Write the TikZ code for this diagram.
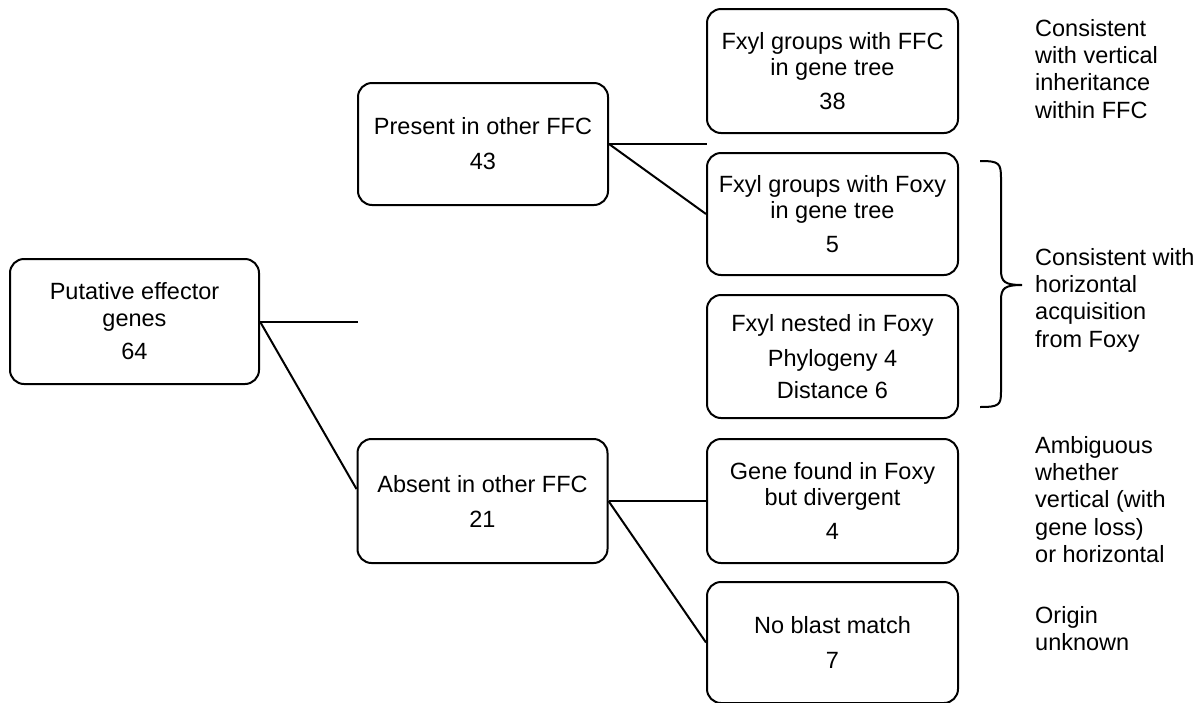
\documentclass[tikz,border=0pt]{standalone}
\usepackage{fontspec}
\setmainfont{Liberation Sans}
\newcommand{\diagboxfont}{\fontsize{23.5}{26}\selectfont}
\newcommand{\diagnotefont}{\fontsize{23.5}{27.3}\selectfont}
\begin{document}
\begin{tikzpicture}[x=1pt,y=-1pt,
  box/.style={draw, line width=2pt, rounded corners=14pt, align=center,
    inner sep=0pt, font=\diagboxfont, minimum width=250pt},
  link/.style={line width=2pt},
  note/.style={anchor=north west, align=left, inner sep=0pt, font=\diagnotefont}]
\useasboundingbox (0,0) rectangle (1203,702);

% boxes of the tree
\node[box, minimum width=249pt, minimum height=125pt] (root) at (134.5,321.5)
  {Putative effector\\[1pt]genes\\[7pt]64};
\node[box, minimum height=122pt] (present) at (483,144)
  {Present in other FFC\\[9pt]43};
\node[box, minimum height=124pt] (absent) at (482.5,501)
  {Absent in other FFC\\[9pt]21};
\node[box, minimum width=251pt, minimum height=124pt] (b1) at (832.5,71)
  {Fxyl groups with FFC\\in gene tree\\[8pt]38};
\node[box, minimum width=251pt, minimum height=122pt] (b2) at (832.5,214)
  {Fxyl groups with Foxy\\in gene tree\\[8pt]5};
\node[box, minimum width=251pt, minimum height=123pt] (b3) at (832.5,356.5)
  {Fxyl nested in Foxy\\[9pt]Phylogeny 4\\[6pt]Distance 6};
\node[box, minimum width=251pt, minimum height=124pt] (b4) at (832.5,501)
  {Gene found in Foxy\\but divergent\\[8pt]4};
\node[box, minimum width=251pt, minimum height=121pt] (b5) at (832.5,642.5)
  {No blast match\\[9pt]7};

% connectors
\coordinate (rootend) at (358,321.5);
\coordinate (presentend) at (707,144);
\draw[link] (root.east) -- (rootend);
\draw[link] (root.east) -- ([yshift=12pt]absent.west);
\draw[link] (present.east) -- (presentend);
\draw[link] (present.east) -- (b2.west);
\draw[link] (absent.east) -- (b4.west);
\draw[link] (absent.east) -- (b5.west);

% brace grouping the two horizontal-acquisition boxes
\draw[link]
  (980,161) .. controls (999,161) and (1001,163) .. (1001,178) -- (1001,270)
  .. controls (1001,282) and (1005,285) .. (1022,285)
  .. controls (1005,285) and (1001,288) .. (1001,300) -- (1001,392)
  .. controls (1001,405) and (999,407) .. (980,407);

% interpretations
\node[note] (n1) at (1035,19) {Consistent\\with vertical\\inheritance\\within FFC};
\node[note] (n2) at (1035,248) {Consistent with\\horizontal\\acquisition\\from Foxy};
\node[note] (n3) at (1035,436) {Ambiguous\\whether\\vertical (with\\gene loss)\\or horizontal};
\node[note] (n4) at (1035,606) {Origin\\unknown};
\end{tikzpicture}
\end{document}
